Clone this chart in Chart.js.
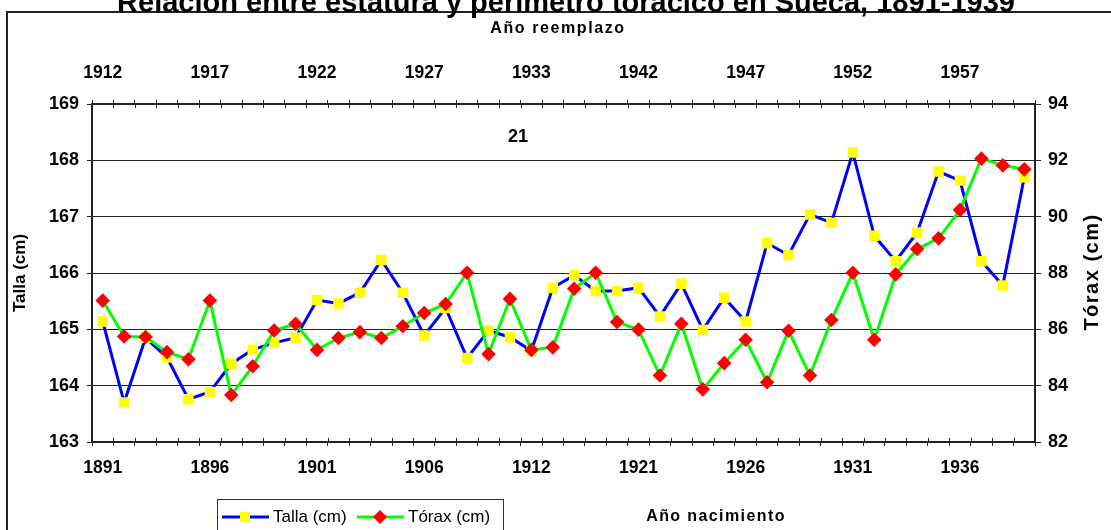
<!DOCTYPE html>
<html>
<head>
<meta charset="utf-8">
<script src="https://cdn.jsdelivr.net/npm/chart.js@4"></script>
<style>
  body { margin: 0; background: #fff; }
  #wrap { width: 1111px; height: 530px; }
</style>
</head>
<body>
<div id="wrap"><canvas id="chart" width="1111" height="530"></canvas></div>
<script>
// birth year of each cohort (bottom axis)
const birthYears = [
    1891, 1892, 1893, 1894, 1895, 1896, 1897, 1898, 1899, 1900,
    1901, 1902, 1903, 1904, 1905, 1906, 1907, 1908, 1909, 1910,
    1912, 1913, 1914, 1915, 1916, 1921, 1922, 1923, 1924, 1925,
    1926, 1927, 1928, 1929, 1930, 1931, 1932, 1933, 1934, 1935,
    1936, 1937, 1938, 1939
];
// conscription year = birth year + 21 (top axis)
const recruitAge = 21;
const reemplazoYears = birthYears.map(y => y + recruitAge);

const talla = [
    165.14, 163.70, 164.85, 164.50, 163.76, 163.89, 164.39, 164.64, 164.76, 164.85,
    165.52, 165.46, 165.65, 166.23, 165.65, 164.89, 165.38, 164.49, 164.98, 164.86,
    164.62, 165.74, 165.96, 165.68, 165.68, 165.74, 165.23, 165.81, 164.99, 165.56,
    165.14, 166.53, 166.32, 167.04, 166.89, 168.14, 166.66, 166.21, 166.72, 167.80,
    167.64, 166.21, 165.78, 167.70
];
const torax = [
    87.02, 85.75, 85.73, 85.19, 84.94, 87.02, 83.67, 84.69, 85.96, 86.20,
    85.27, 85.69, 85.90, 85.69, 86.11, 86.58, 86.90, 88.01, 85.12, 87.08,
    85.27, 85.36, 87.44, 88.01, 86.26, 85.99, 84.36, 86.20, 83.87, 84.80,
    85.63, 84.12, 85.95, 84.36, 86.33, 88.01, 85.63, 87.95, 88.85, 89.23,
    90.24, 92.06, 91.82, 91.68
];

const FONT = '"Liberation Sans", Arial, sans-serif';
const AXIS = '#222';
const labelEvery = 5;

// extra texts, frame, legend and the inner half of the crossing x ticks
const decor = {
    id: 'decor',
    beforeDatasetsDraw(chart) {
        const { ctx, chartArea: a } = chart;
        const sx = chart.scales.x;
        const n = chart.data.labels.length;
        const step = (sx.getPixelForValue(1) - sx.getPixelForValue(0));
        ctx.save();
        ctx.strokeStyle = AXIS;
        ctx.lineWidth = 1;
        ctx.beginPath();
        for (let i = 0; i <= n; i++) {
            const x = Math.round(sx.getPixelForValue(i) - step / 2) + 0.5;
            ctx.moveTo(x, a.top);
            ctx.lineTo(x, a.top + 4);
            ctx.moveTo(x, a.bottom);
            ctx.lineTo(x, a.bottom - 4);
        }
        ctx.stroke();
        ctx.restore();
    },
    afterDraw(chart) {
        const { ctx } = chart;
        ctx.save();

        // outer frame
        ctx.strokeStyle = AXIS;
        ctx.lineWidth = 2;
        ctx.strokeRect(7, 12, 1200, 600);

        ctx.fillStyle = '#000';
        ctx.textAlign = 'center';

        ctx.font = 'bold 29px ' + FONT;
        ctx.textBaseline = 'alphabetic';
        ctx.fillText('Relación entre estatura y perímetro torácico en Sueca, 1891-1939', 566, 12);

        ctx.textBaseline = 'middle';
        ctx.font = 'bold 16px ' + FONT;
        ctx.letterSpacing = '1.6px';
        ctx.fillText('Año reemplazo', 558, 29);
        ctx.letterSpacing = '1.4px';
        ctx.fillText('Año nacimiento', 716, 517);
        ctx.letterSpacing = '0px';

        ctx.font = 'bold 18px ' + FONT;
        ctx.fillText(String(recruitAge), 518, 137);

        ctx.save();
        ctx.translate(1092, 272);
        ctx.rotate(-Math.PI / 2);
        ctx.font = 'bold 20px ' + FONT;
        ctx.letterSpacing = '1.5px';
        ctx.fillText('Tórax (cm)', 0, 0);
        ctx.restore();

        // legend
        ctx.strokeStyle = '#333';
        ctx.lineWidth = 1;
        ctx.strokeRect(217.5, 499.5, 286, 60);
        const items = [
            { ds: chart.data.datasets[0], x: 222 },
            { ds: chart.data.datasets[1], x: 357 }
        ];
        const ly = 517;
        items.forEach(it => {
            ctx.strokeStyle = it.ds.borderColor;
            ctx.lineWidth = 3;
            ctx.beginPath();
            ctx.moveTo(it.x, ly);
            ctx.lineTo(it.x + 47, ly);
            ctx.stroke();
            ctx.fillStyle = it.ds.pointBackgroundColor;
            const cx = it.x + 23;
            ctx.beginPath();
            if (it.ds.pointStyle === 'rect') {
                ctx.rect(cx - 5, ly - 5, 10, 10);
            } else {
                ctx.moveTo(cx - 7, ly);
                ctx.lineTo(cx, ly - 7);
                ctx.lineTo(cx + 7, ly);
                ctx.lineTo(cx, ly + 7);
                ctx.closePath();
            }
            ctx.fill();
            ctx.fillStyle = '#000';
            ctx.font = '17px ' + FONT;
            ctx.textAlign = 'left';
            ctx.fillText(it.ds.label, it.x + 51, ly);
        });

        ctx.restore();
    }
};

const tickFontX = { family: FONT, size: 17.5, weight: 'bold' };
const tickFontY = { family: FONT, size: 18, weight: 'bold' };

new Chart(document.getElementById('chart'), {
    type: 'line',
    data: {
        labels: birthYears,
        datasets: [
            {
                label: 'Talla (cm)',
                data: talla,
                yAxisID: 'y',
                borderColor: '#0000FF',
                borderWidth: 3,
                pointStyle: 'rect',
                pointRadius: 7.4,
                pointBackgroundColor: '#FFFF00',
                pointBorderWidth: 0,
                tension: 0,
                order: 2
            },
            {
                label: 'Tórax (cm)',
                data: torax,
                yAxisID: 'y1',
                borderColor: '#00FF00',
                borderWidth: 3,
                pointStyle: 'rectRot',
                pointRadius: 7.3,
                pointBackgroundColor: '#FF0000',
                pointBorderWidth: 0,
                tension: 0,
                order: 1
            }
        ]
    },
    options: {
        responsive: false,
        animation: false,
        layout: { padding: 0 },
        plugins: {
            legend: { display: false },
            tooltip: { enabled: false }
        },
        scales: {
            x: {
                type: 'category',
                position: 'bottom',
                offset: true,
                grid: { offset: true, drawOnChartArea: false, tickLength: 4, color: AXIS },
                border: { color: AXIS, width: 2 },
                ticks: {
                    autoSkip: false,
                    maxRotation: 0,
                    padding: 12,
                    color: '#000',
                    font: tickFontX,
                    callback: (v, i) => i % labelEvery === 0 ? birthYears[i] : ''
                },
                afterFit: s => { s.height = 88; }
            },
            x2: {
                type: 'category',
                position: 'top',
                display: true,
                labels: reemplazoYears,
                offset: true,
                grid: { offset: true, drawOnChartArea: false, tickLength: 4, color: AXIS },
                border: { color: AXIS, width: 2 },
                ticks: {
                    autoSkip: false,
                    maxRotation: 0,
                    padding: 16,
                    color: '#000',
                    font: tickFontX,
                    callback: (v, i) => i % labelEvery === 0 ? reemplazoYears[i] : ''
                },
                afterFit: s => { s.height = 104; }
            },
            y: {
                position: 'left',
                min: 163,
                max: 169,
                ticks: { stepSize: 1, padding: 8, color: '#000', font: tickFontY },
                grid: { color: AXIS, lineWidth: 1, tickLength: 5 },
                border: { color: AXIS, width: 2 },
                title: {
                    display: true,
                    text: 'Talla (cm)',
                    color: '#000',
                    font: { family: FONT, size: 17, weight: 'bold' },
                    padding: { top: 10, bottom: 0 }
                },
                afterFit: s => { s.width = 92; }
            },
            y1: {
                position: 'right',
                min: 82,
                max: 94,
                ticks: { stepSize: 2, padding: 7, color: '#000', font: tickFontY },
                grid: { drawOnChartArea: false, color: AXIS, tickLength: 6 },
                border: { color: AXIS, width: 2 },
                afterFit: s => { s.width = 76; }
            }
        }
    },
    plugins: [decor]
});
</script>
</body>
</html>
